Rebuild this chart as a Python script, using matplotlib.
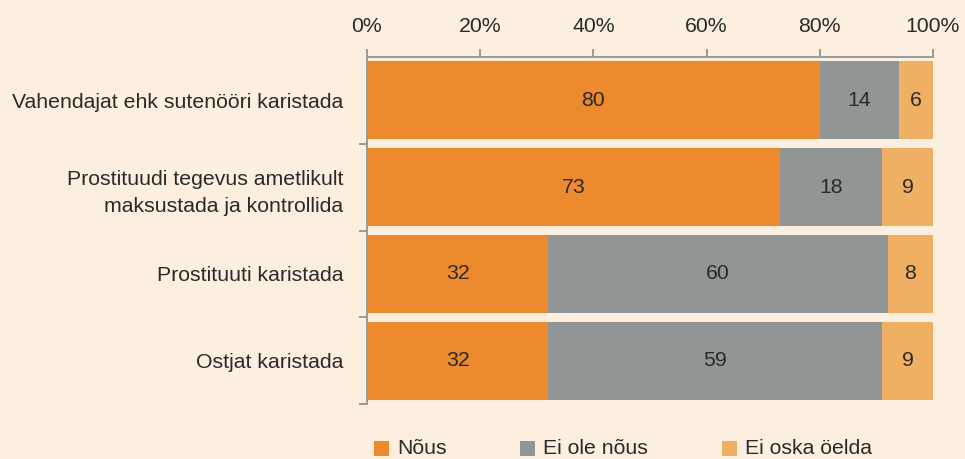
import matplotlib
matplotlib.use("Agg")

import matplotlib.pyplot as plt
import numpy as np
from matplotlib.patches import Rectangle

categories = [
    "Vahendajat ehk sutenööri karistada",
    "Prostituudi tegevus ametlikult\nmaksustada ja kontrollida",
    "Prostituuti karistada",
    "Ostjat karistada",
]
series_names = ["Nõus", "Ei ole nõus", "Ei oska öelda"]
agree = [80, 73, 32, 32]
disagree = [14, 18, 60, 59]
dont_know = [6, 9, 8, 9]
x_ticks = [0, 20, 40, 60, 80, 100]
x_tick_labels = ["0%", "20%", "40%", "60%", "80%", "100%"]

BG = "#FDEFE0"
COLORS = ["#EE8A2E", "#919596", "#F0B064"]
SPINE = "#9A9A9A"
TEXT = "#2A2A2A"
FS = 15.3

plt.rcParams["font.family"] = ["Liberation Sans", "DejaVu Sans"]

fig = plt.figure(figsize=(9.65, 4.59), dpi=100, facecolor=BG)
ax = fig.add_axes([367 / 965, 1 - 404 / 459, 566 / 965, 347 / 459])
ax.set_facecolor(BG)

y = np.arange(len(categories))
left = np.zeros(len(categories))
for name, vals, color in zip(series_names, [agree, disagree, dont_know], COLORS):
    vals = np.array(vals, dtype=float)
    ax.barh(y, vals, left=left, height=0.9, color=color, edgecolor="none", label=name)
    for yi, l, v in zip(y, left, vals):
        ax.text(l + v / 2, yi, f"{int(v)}", ha="center", va="center",
                fontsize=FS, color=TEXT)
    left += vals

ax.set_xlim(0, 100)
ax.set_ylim(len(categories) - 0.5, -0.5)

ax.xaxis.tick_top()
ax.set_xticks(x_ticks)
ax.set_xticklabels(x_tick_labels, fontsize=FS, color=TEXT)
ax.tick_params(axis="x", which="major", length=6, width=1.4, color=SPINE, pad=9)

ax.set_yticks(y)
ax.set_yticklabels(categories, fontsize=FS, color=TEXT, linespacing=1.55)
ax.tick_params(axis="y", which="major", length=0, pad=17)
ax.set_yticks(np.arange(len(categories)) + 0.5, minor=True)
ax.tick_params(axis="y", which="minor", length=6, width=1.4, color=SPINE)

for side in ["right", "bottom"]:
    ax.spines[side].set_visible(False)
for side in ["top", "left"]:
    ax.spines[side].set_color(SPINE)
    ax.spines[side].set_linewidth(1.4)

# legend drawn by hand to match the uneven spacing
legend_x = [374, 520, 722]
for name, color, lx in zip(series_names, COLORS, legend_x):
    fig.add_artist(Rectangle((lx / 965, 1 - 456 / 459), 15 / 965, 15 / 459,
                             transform=fig.transFigure, facecolor=color, edgecolor="none"))
    fig.text((lx + 23) / 965, 1 - 448 / 459, name, ha="left", va="center",
             fontsize=FS, color=TEXT)

fig.savefig("out.png", dpi=100, facecolor=BG)
